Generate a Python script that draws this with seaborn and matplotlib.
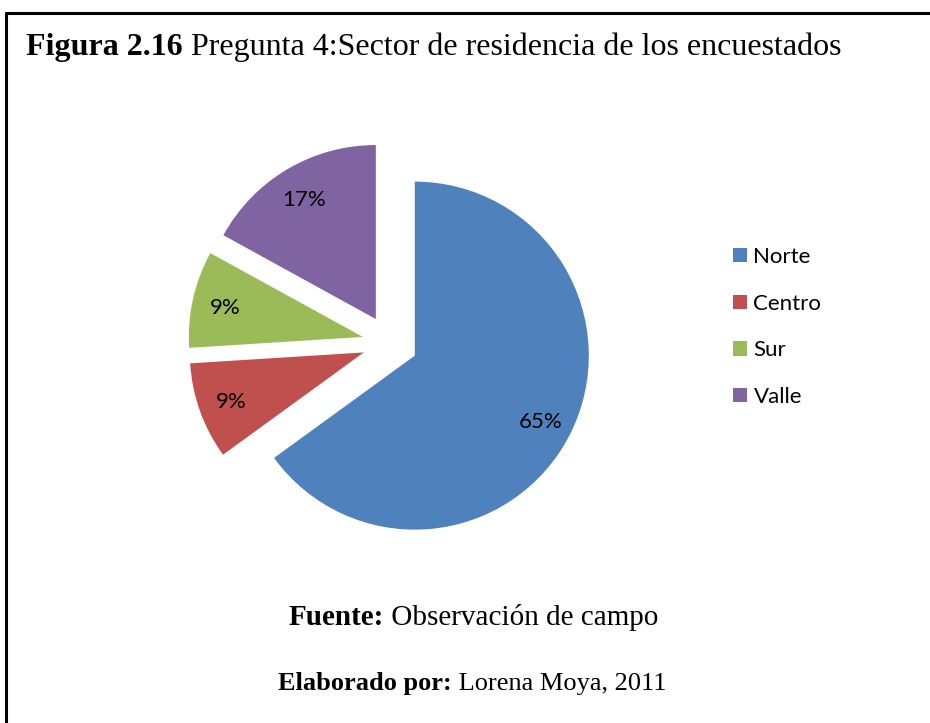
import matplotlib

matplotlib.use("Agg")
import matplotlib.pyplot as plt
import seaborn as sns
from matplotlib.lines import Line2D

# ----------------------------------------------------------------------
# Data
# ----------------------------------------------------------------------
sectores = ["Norte", "Centro", "Sur", "Valle"]
porcentajes = [65, 9, 9, 17]
colores = ["#4F81BD", "#C0504D", "#9BBB59", "#8064A2"]

titulo_bold = "Figura 2.16"
titulo_normal = " Pregunta 4:Sector de residencia de los encuestados"
fuente = ("Fuente:", " Observación de campo")
elaborado = ("Elaborado por:", " Lorena Moya, 2011")

W, H = 930, 723
SERIF = "Liberation Serif"
SANS = "Lato"

sns.set_theme(style="white")
plt.rcParams["font.family"] = [SANS, "DejaVu Sans"]
plt.rcParams["text.color"] = "black"

fig = plt.figure(figsize=(W / 100, H / 100), dpi=100)
fig.patch.set_facecolor("white")

# pie axes: center (390, 343) px, radius 174 px
span = 1.4
side = 2 * span * 174
cx, cy = 390, 343
ax = fig.add_axes([(cx - side / 2) / W, (H - cy - side / 2) / H, side / W, side / H])
ax.set_axis_off()

palette = sns.color_palette(colores)
wedges, _, autotexts = ax.pie(
    porcentajes,
    explode=[0.16] * len(porcentajes),
    startangle=90,
    counterclock=False,
    colors=palette,
    autopct=lambda p: f"{p:.0f}%",
    pctdistance=0.81,
    wedgeprops=dict(linewidth=0),
    textprops=dict(fontsize=16, color="black"),
)
# nudge percentage labels down slightly (Excel centers on glyph body)
for t in autotexts:
    t.set_va("center_baseline")
ax.set_xlim(-span, span)
ax.set_ylim(-span, span)
ax.set_aspect("equal")

fig.legend(
    wedges,
    sectores,
    loc="center left",
    bbox_to_anchor=(733 / W, 1 - 327 / H),
    frameon=False,
    fontsize=16,
    handlelength=0.62,
    handleheight=0.62,
    handletextpad=0.3,
    labelspacing=1.2,
    borderpad=0,
    borderaxespad=0,
)

# border lines (left and top)
fig.add_artist(Line2D([6 / W, 6 / W], [0, 1 - 13 / H], color="black", lw=2.2, transform=fig.transFigure))
fig.add_artist(Line2D([6 / W, 1], [1 - 13 / H, 1 - 13 / H], color="black", lw=2.2, transform=fig.transFigure))

renderer = fig.canvas.get_renderer()


def mixed_text(parts, x_px, y_base_px, size, centered=False):
    """Draw bold + normal pieces on one baseline."""
    objs = []
    for txt, weight in parts:
        t = fig.text(0, 1 - y_base_px / H, txt, fontsize=size, fontweight=weight,
                     family=SERIF, va="baseline", ha="left", color="black")
        objs.append(t)
    widths = [t.get_window_extent(renderer).width for t in objs]
    start = x_px - sum(widths) / 2 if centered else x_px
    for t, w in zip(objs, widths):
        t.set_x(start / W)
        start += w


mixed_text([(titulo_bold, "bold"), (titulo_normal, "normal")], 26, 55, 23)
mixed_text([(fuente[0], "bold"), (fuente[1], "normal")], 473, 625, 21, centered=True)
mixed_text([(elaborado[0], "bold"), (elaborado[1], "normal")], 472, 690, 19, centered=True)

fig.savefig("out.png", dpi=100)
